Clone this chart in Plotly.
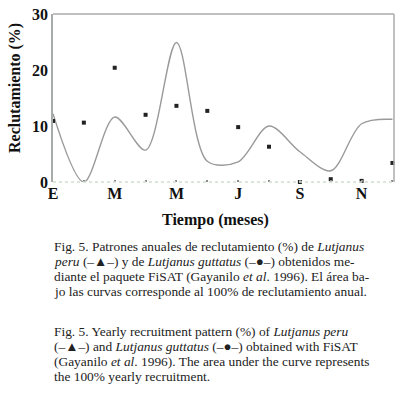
import plotly.graph_objects as go

# ---- data ----
months = ["E", "F", "M", "A", "M", "J", "J", "A", "S", "O", "N", "D"]
month_idx = list(range(12))
tick_labels = ["E", "", "M", "", "M", "", "J", "", "S", "", "N", ""]
curve_values = [12.2, 0.0, 11.6, 5.7, 24.9, 3.7, 3.6, 10.0, 5.4, 2.0, 10.4, 11.2]
point_values = [10.9, 10.6, 20.4, 12.0, 13.6, 12.7, 9.8, 6.3, 0.0, 0.5, 0.2, 3.4]
y_ticks = [0, 10, 20, 30]

caption_es = [
    "Fig. 5. Patrones anuales de reclutamiento (%) de <i>Lutjanus</i>",
    "<i>peru</i> (–▲–) y de <i>Lutjanus guttatus</i> (–●–) obtenidos me-",
    "diante el paquete FiSAT (Gayanilo <i>et al</i>. 1996). El área ba-",
    "jo las curvas corresponde al 100% de reclutamiento anual.",
]
caption_en = [
    "Fig. 5. Yearly recruitment pattern (%) of <i>Lutjanus peru</i>",
    "(–▲–) and <i>Lutjanus guttatus</i> (–●–) obtained with FiSAT",
    "(Gayanilo <i>et al</i>. 1996). The area under the curve represents",
    "the 100% yearly recruitment.",
]

W, H = 402, 393
L, R, T, B = 53, 8, 14, 211
plot_h = H - T - B
plot_w = W - L - R

def py(pix):
    return (H - B - pix) / plot_h

def px(pix):
    return (pix - L) / plot_w

serif = "Liberation Serif"
bold_serif = "Liberation Serif"

fig = go.Figure()
fig.add_trace(go.Scatter(
    x=month_idx, y=curve_values, mode="lines",
    line=dict(color="#9a9a9a", width=1.4, shape="spline", smoothing=0.9),
    hoverinfo="skip", showlegend=False,
))
fig.add_trace(go.Scatter(
    x=month_idx, y=point_values, mode="markers",
    marker=dict(symbol="square", size=4, color="#222222"),
    cliponaxis=False, showlegend=False,
))

fig.update_xaxes(
    range=[0, 11.05], tickvals=month_idx, ticktext=["<b>%s</b>" % t if t else "" for t in tick_labels],
    showgrid=False, zeroline=False, showline=False, automargin=False,
    ticks="inside", ticklen=2, tickcolor="#8a8a8a", tickwidth=2,
    tickfont=dict(family=bold_serif, size=16, color="#111111"),
)
fig.update_yaxes(
    range=[0, 30], tickvals=y_ticks, ticktext=["<b>%d</b>" % v for v in y_ticks],
    showgrid=False, zeroline=False, automargin=False,
    showline=True, linecolor="#a8aca8", linewidth=1.5, ticks="",
    tickfont=dict(family=bold_serif, size=16, color="#111111"),
)

shapes = [
    dict(type="line", xref="paper", yref="paper", x0=0, x1=1, y0=1, y1=1,
         line=dict(color="#a8aca8", width=1.5)),
    dict(type="line", xref="paper", yref="paper", x0=1, x1=1, y0=0, y1=1,
         line=dict(color="#a8aca8", width=1.5)),
    dict(type="line", xref="paper", yref="paper", x0=0, x1=1, y0=0, y1=0,
         line=dict(color="#cfe0cf", width=1.5, dash="dot")),
]

annotations = [
    dict(text="<b>Tiempo (meses)</b>", xref="paper", yref="paper",
         x=px(215), y=py(220), showarrow=False, xanchor="center", yanchor="middle",
         font=dict(family=bold_serif, size=16, color="#111111")),
    dict(text="<b>Reclutamiento (%)</b>", xref="paper", yref="paper",
         x=px(15), y=py(88), showarrow=False, xanchor="center", yanchor="middle",
         textangle=-90, font=dict(family=bold_serif, size=16, color="#111111")),
]
line_h = 15
for i, t in enumerate(caption_es):
    annotations.append(dict(text=t, xref="paper", yref="paper", x=px(52), y=py(246 + i * line_h),
                            showarrow=False, xanchor="left", yanchor="middle",
                            font=dict(family=serif, size=13.4, color="#222222")))
for i, t in enumerate(caption_en):
    annotations.append(dict(text=t, xref="paper", yref="paper", x=px(52), y=py(331 + i * line_h),
                            showarrow=False, xanchor="left", yanchor="middle",
                            font=dict(family=serif, size=13.4, color="#222222")))

fig.update_layout(
    width=W, height=H, margin=dict(l=L, r=R, t=T, b=B, autoexpand=False),
    paper_bgcolor="white", plot_bgcolor="white",
    shapes=shapes, annotations=annotations,
)

# remove the default 8px page margin so the figure fills the window exactly
fig.write_html("out.html", config={"displayModeBar": False},
               post_script="document.body.style.margin='0px';document.body.style.overflow='hidden';")
